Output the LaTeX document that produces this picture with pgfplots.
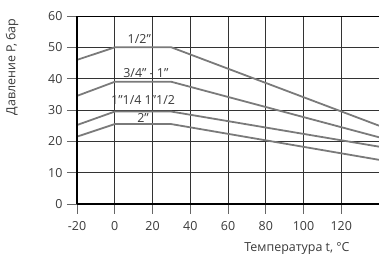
\documentclass[border=0pt]{standalone}
\usepackage{fontspec}
\setmainfont{Open Sans}
\usepackage{pgfplots}
\pgfplotsset{compat=1.18}
\definecolor{curve}{HTML}{7A7A7A}
\definecolor{txt}{HTML}{3A3A3A}
\begin{document}
\begin{tikzpicture}[x=1bp,y=1bp]
\useasboundingbox (0,0) rectangle (379,257);
\begin{axis}[at={(77bp,53bp)}, anchor=south west, scale only axis,
  width=302bp, height=188bp,
  xmin=-20, xmax=140, ymin=0, ymax=60,
  xtick={-20,0,...,120}, ytick={0,10,...,60},
  grid=major, major grid style={black!80, line width=0.6pt},
  axis line style={black, line width=0.8pt},
  tick style={black!60, line width=0.8pt},
  tick align=outside, major tick length=10bp,
  tick pos=left,
  /pgf/number format/assume math mode=true,
  ticklabel style={font=\fontsize{12.5}{14}\selectfont, text=txt},
  yticklabel style={xshift=-1bp},
  xticklabel style={yshift=-4bp},
  clip=false,
]
\addplot[curve, line width=1.8pt] coordinates {(-20,46) (0,50) (30,50) (140,25)};
\addplot[curve, line width=1.8pt] coordinates {(-20,34.5) (0,39) (30,39) (140,21.3)};
\addplot[curve, line width=1.8pt] coordinates {(-20,25.2) (0,29.5) (30,29.5) (140,18.3)};
\addplot[curve, line width=1.8pt] coordinates {(-20,21.5) (0,25.5) (30,25.5) (140,14.1)};
\draw[black, line width=1.6pt] (rel axis cs:0,0) -- (rel axis cs:0,1);
\draw[black, line width=1.6pt] (rel axis cs:0,0) -- (rel axis cs:1,0);
\begin{scope}[every node/.style={font=\fontsize{12.5}{14}\selectfont, text=txt, inner sep=0pt}]
\node at (axis cs:13,52.8) {1/2"};
\node at (axis cs:16.5,41.8) {3/4" - 1"};
\node at (axis cs:15,33.2) {1"1/4 1"1/2};
\node at (axis cs:15,27.6) {2"};
\end{scope}
\end{axis}
\node[font=\fontsize{12.5}{14}\selectfont, text=txt, inner sep=0pt] at (297,9) {Температура t, °C};
\node[font=\fontsize{12.5}{14}\selectfont, text=txt, rotate=90, inner sep=0pt] at (12,190) {Давление P, бар};
\end{tikzpicture}
\end{document}
